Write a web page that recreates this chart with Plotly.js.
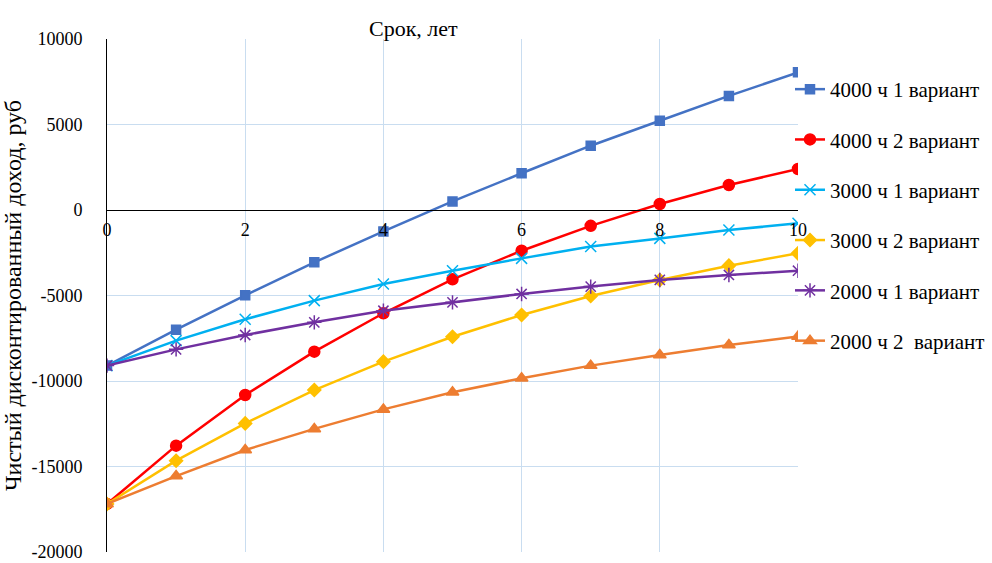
<!DOCTYPE html>
<html>
<head>
<meta charset="utf-8">
<script src="https://cdn.plot.ly/plotly-3.0.1.min.js"></script>
<style>
html,body{margin:0;padding:0;background:#fff;}
#chart{width:992px;height:563px;}
#chart svg text{font-family:'Liberation Serif', Tinos, 'DejaVu Serif' !important;}
</style>
</head>
<body>
<div id="chart"></div>
<script>
var years = [0,1,2,3,4,5,6,7,8,9,10];
var seriesNames = ["4000 ч 1 вариант","4000 ч 2 вариант","3000 ч 1 вариант","3000 ч 2 вариант","2000 ч 1 вариант","2000 ч 2  вариант"];
var s4000v1 = [-9100,-7000,-4990,-3060,-1250,500,2150,3760,5220,6670,8050];
var s4000v2 = [-17190,-13780,-10820,-8285,-6040,-4055,-2380,-925,350,1460,2400];
var s3000v1 = [-9100,-7640,-6390,-5300,-4330,-3550,-2830,-2140,-1660,-1170,-780];
var s3000v2 = [-17190,-14660,-12480,-10530,-8870,-7410,-6140,-5030,-4090,-3255,-2535];
var s2000v1 = [-9100,-8150,-7310,-6570,-5890,-5400,-4910,-4480,-4090,-3800,-3550];
var s2000v2 = [-17190,-15560,-14035,-12800,-11660,-10660,-9840,-9100,-8480,-7895,-7400];
var xTickVals = [0,2,4,6,8,10];
var yTickVals = [-20000,-15000,-10000,-5000,0,5000,10000];

var values = [s4000v1,s4000v2,s3000v1,s3000v2,s2000v1,s2000v2];
var colors = ["#4472C4","#FF0000","#00B0F0","#FFC000","#7030A0","#ED7D31"];
var symbols = ["square","circle","x-thin-open","diamond","asterisk-open","triangle-up"];
var sizes = [9,11,11,10,12,11];

var traces = values.map(function(v,i){
  return {
    x: years, y: v, name: seriesNames[i], type: 'scatter', mode: 'lines+markers',
    legendgroup: 'g'+i,
    line: {color: colors[i], width: 2.5},
    marker: {symbol: symbols[i], size: sizes[i], color: colors[i], line: {color: colors[i], width: 1.5}}
  };
});

var font = "Tinos";
var layout = {
  width: 992, height: 563,
  margin: {l:107, r:194, t:39, b:11, autoexpand: false},
  paper_bgcolor: '#fff', plot_bgcolor: '#fff',
  font: {family: font, size: 18, color: '#000'},
  showlegend: true,
  legend: {xref: 'container', yref: 'container', x: 790/992, xanchor: 'left', y: 1-69/563, yanchor: 'top',
           font: {family: font, size: 21, color:'#000'}, maxheight: 480,
           traceorder: 'grouped', tracegroupgap: 20, itemwidth: 30, bgcolor: 'rgba(0,0,0,0)'},
  xaxis: {
    range: [0,10], tickvals: xTickVals, ticktext: xTickVals.map(String),
    anchor: 'free', position: 2/3,
    showgrid: true, gridcolor: '#C9DDF0', gridwidth: 1,
    showline: true, linecolor: '#000', linewidth: 1,
    zeroline: false, ticks: '', ticklabelstandoff: 3, tickfont: {family: font, size: 18, color:'#000'}
  },
  yaxis: {
    range: [-20000,10000], tickvals: yTickVals, ticktext: yTickVals.map(String),
    domain: [0,1],
    showgrid: true, gridcolor: '#C9DDF0', gridwidth: 1,
    showline: true, linecolor: '#000', linewidth: 1,
    zeroline: true, zerolinecolor: '#000', zerolinewidth: 1,
    ticks: '', ticklabelstandoff: 20, tickfont: {family: font, size: 18, color:'#000'},
    title: {text: 'Чистый дисконтированный доход, руб', font: {family: font, size: 24, color:'#000'}, standoff: 3}
  },
  annotations: [{
    text: 'Срок, лет', xref: 'paper', yref: 'paper', x: (413-107)/691, y: 1, yanchor: 'bottom', yshift: -4,
    showarrow: false, font: {family: font, size: 22, color: '#000'}
  }]
};
Plotly.newPlot('chart', traces, layout, {displayModeBar: false, staticPlot: true});
</script>
</body>
</html>
